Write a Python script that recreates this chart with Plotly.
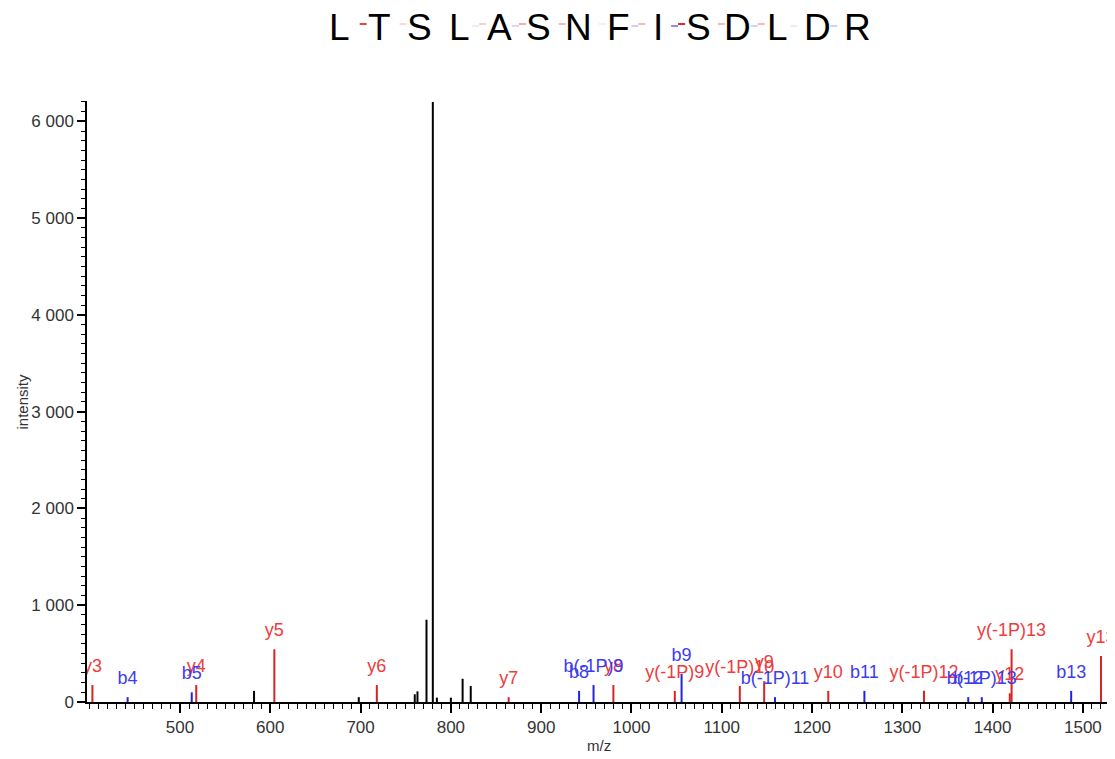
import plotly.graph_objects as go

# ---- data ----
sequence = list("LTSLASNFISDLDR")

y_names = ["y3", "y4", "y5", "y6", "y7", "y8", "y(-1P)9", "y(-1P)10", "y9", "y10",
           "y(-1P)12", "y12", "y(-1P)13", "y13"]
y_mz = [403, 518, 604.5, 718, 864, 980, 1048, 1120, 1147, 1218, 1324, 1419, 1421, 1520]
y_int = [175, 175, 545, 175, 50, 175, 115, 165, 215, 115, 115, 90, 545, 475]

b_names = ["b4", "b5", "b8", "b(-1P)9", "b9", "b(-1P)11", "b11", "b12", "b(-1P)13", "b13"]
b_mz = [442, 513, 942, 958, 1055.5, 1159, 1258, 1373, 1388, 1487]
b_int = [50, 100, 115, 175, 290, 50, 115, 50, 50, 115]

other_mz = [582, 698, 760, 763, 773, 780, 784.5, 800, 813, 822]
other_int = [115, 50, 80, 110, 850, 6200, 45, 45, 240, 165]

x_ticks = [500, 600, 700, 800, 900, 1000, 1100, 1200, 1300, 1400, 1500]

RED_LINE = "rgb(215,35,35)"
BLUE_LINE = "rgb(35,35,215)"
RED_TXT = "rgb(238,60,60)"
BLUE_TXT = "rgb(60,60,238)"
FONT = "Liberation Sans, Arial, Helvetica, sans-serif"


def stems(xs, ys):
    sx, sy = [], []
    for x, y in zip(xs, ys):
        sx += [x, x, None]
        sy += [0, y, None]
    return sx, sy


fig = go.Figure()
for xs, ys, col in [(other_mz, other_int, "black"), (y_mz, y_int, RED_LINE), (b_mz, b_int, BLUE_LINE)]:
    sx, sy = stems(xs, ys)
    fig.add_trace(go.Scatter(x=sx, y=sy, mode="lines", line=dict(color=col, width=2),
                             hoverinfo="skip", showlegend=False))

# invisible markers push the labels a little above the peak tops
for xs, ys, names, col in [(y_mz, y_int, y_names, RED_TXT), (b_mz, b_int, b_names, BLUE_TXT)]:
    fig.add_trace(go.Scatter(x=xs, y=ys, mode="markers+text", text=names, textposition="top center",
                             marker=dict(size=12, color="rgba(0,0,0,0)"),
                             textfont=dict(color=col, size=18, family=FONT),
                             cliponaxis=True, showlegend=False, hoverinfo="skip"))

# ---- title: sequence with fragment marks ----
SPACING = 39.8
n = len(sequence)
annotations = []
shapes = []
for i, aa in enumerate(sequence):
    annotations.append(dict(text=aa, x=0.5, xref="paper", y=1, yref="paper",
                            xshift=(i - (n - 1) / 2) * SPACING, yshift=74,
                            xanchor="center", yanchor="middle", showarrow=False,
                            font=dict(size=37, color="black", family=FONT)))

max_lab = max(y_int + b_int)
b_lookup = dict(zip(b_names, b_int))
y_lookup = dict(zip(y_names, y_int))
for g in range(1, n):
    mid = (g - 0.5 - (n - 1) / 2) * SPACING
    bi = b_lookup.get(f"b{g}")
    yi = y_lookup.get(f"y{n - g}")
    if bi:
        a = bi / max_lab
        shapes.append(dict(type="line", xref="paper", yref="paper", xsizemode="pixel",
                           ysizemode="pixel", xanchor=0.5, yanchor=1,
                           x0=mid - 7, x1=mid, y0=75, y1=75,
                           line=dict(color=f"rgba(40,40,225,{a:.2f})", width=2)))
    if yi:
        a = yi / max_lab
        shapes.append(dict(type="line", xref="paper", yref="paper", xsizemode="pixel",
                           ysizemode="pixel", xanchor=0.5, yanchor=1,
                           x0=mid, x1=mid + 7, y0=77, y1=77,
                           line=dict(color=f"rgba(225,40,40,{a:.2f})", width=2)))

annotations.append(dict(text="intensity", x=0, xref="paper", y=0.5, yref="paper",
                        xshift=-65, textangle=-90, showarrow=False,
                        xanchor="center", yanchor="middle",
                        font=dict(size=15, color="#333", family=FONT)))
annotations.append(dict(text="m/z", x=0.5, xref="paper", y=0, yref="paper",
                        yshift=-43, showarrow=False, xanchor="center", yanchor="middle",
                        font=dict(size=15, color="#333", family=FONT)))

# page body adds an 8px margin, so the figure is 8px smaller than the window
fig.update_layout(
    width=1107, height=751,
    margin=dict(l=79, r=5, t=93, b=57, autoexpand=False),
    paper_bgcolor="white", plot_bgcolor="white",
    separators=". ",
    annotations=annotations, shapes=shapes,
    showlegend=False,
)
fig.update_xaxes(range=[397, 1530], showgrid=False, zeroline=False, automargin=False,
                 showline=True, linecolor="black", linewidth=1.5,
                 ticks="outside", ticklen=9, tickwidth=1.5, tickcolor="black",
                 tickmode="array", tickvals=x_ticks,
                 minor=dict(ticks="outside", ticklen=5, dtick=10, tick0=0,
                            tickcolor="black", tickwidth=1),
                 tickfont=dict(size=17, color="#333", family=FONT))
fig.update_yaxes(range=[0, 6210], showgrid=False, zeroline=False, automargin=False,
                 showline=True, linecolor="black", linewidth=1.5,
                 ticks="outside", ticklen=8, tickwidth=1.5, tickcolor="black",
                 dtick=1000, tick0=0, separatethousands=True,
                 minor=dict(ticks="outside", ticklen=4, dtick=100, tickcolor="black", tickwidth=1),
                 tickfont=dict(size=17, color="#333", family=FONT))

fig.write_html("out.html")
